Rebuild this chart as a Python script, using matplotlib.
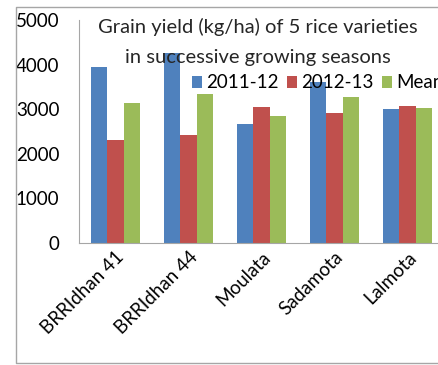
import matplotlib
matplotlib.use("Agg")
import matplotlib.pyplot as plt
import numpy as np
from matplotlib.lines import Line2D

plt.rcParams['font.family'] = ['Lato', 'DejaVu Sans']

varieties = ['BRRIdhan 41', 'BRRIdhan 44', 'Moulata', 'Sadamota', 'Lalmota']
season_1 = [3950, 4270, 2660, 3610, 3000]   # 2011-12
season_2 = [2310, 2420, 3040, 2920, 3070]   # 2012-13
mean_yield = [3130, 3340, 2855, 3265, 3035]
series_names = ['2011-12', '2012-13', 'Mean']
colors = ['#4F81BD', '#C0504D', '#9BBB59']

W, H = 439, 365
fig = plt.figure(figsize=(W / 100, H / 100), dpi=100)

# outer chart frame, cut off on the right like the source
frame = dict(transform=fig.transFigure, color='#a6a6a6', linewidth=1.0)
fx0, fy0, fy1 = 16.5 / W, 1 - 363 / H, 1 - 6.5 / H
fig.lines.append(Line2D([1.01, fx0, fx0, 1.01], [fy1, fy1, fy0, fy0], **frame))

# plot area runs past the right edge of the picture
left, right, top, bottom = 79, 444, 20, 243
ax = fig.add_axes([left / W, 1 - bottom / H, (right - left) / W, (bottom - top) / H])

x = np.arange(len(varieties))
bw = 1 / 4.5
for i, (vals, name, c) in enumerate(zip([season_1, season_2, mean_yield], series_names, colors)):
    ax.bar(x + (i - 1) * bw, vals, width=bw, color=c, label=name, zorder=2)

ax.set_xlim(-0.5, len(varieties) - 0.5)
ax.set_ylim(0, 5000)
ax.set_yticks(range(0, 5001, 1000))
ax.tick_params(axis='y', length=0, labelsize=13.5, pad=14)
ax.tick_params(axis='x', length=0, labelsize=13.5, pad=4)
ax.set_xticks(x)
ax.set_xticklabels(varieties, rotation=45, ha='right', rotation_mode='anchor')

for s in ['top', 'right']:
    ax.spines[s].set_visible(False)
for s in ['left', 'bottom']:
    ax.spines[s].set_color('#a6a6a6')
    ax.spines[s].set_linewidth(0.8)

fig.text(258 / W, 1 - 27 / H, 'Grain yield (kg/ha) of 5 rice varieties',
         ha='center', va='center', fontsize=14.5, color='#262626')
fig.text(258 / W, 1 - 57 / H, 'in successive growing seasons',
         ha='center', va='center', fontsize=14.5, color='#262626')

ax.legend(loc='center left', bbox_to_anchor=((192 - left) / (right - left), (bottom - 83) / (bottom - top)),
          ncol=3, frameon=False, fontsize=13.5, handlelength=0.55, handleheight=0.55,
          handletextpad=0.2, columnspacing=0.45, borderpad=0, borderaxespad=0)

fig.savefig('out.png', dpi=100)
